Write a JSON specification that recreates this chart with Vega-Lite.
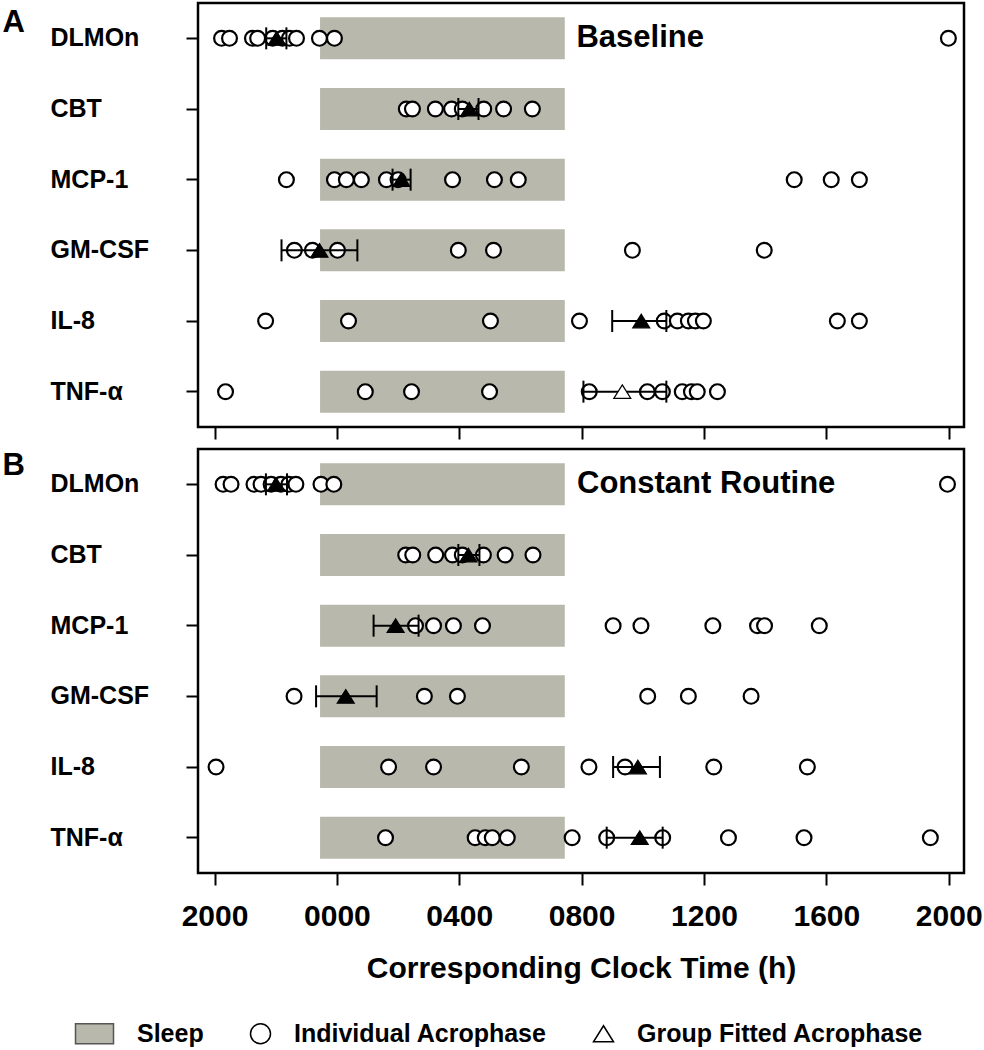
{
  "$schema": "https://vega.github.io/schema/vega-lite/v6.json",
  "padding": {"left": 0, "top": 1, "right": 0, "bottom": 0},
  "background": "white",
  "config": {
    "font": "Liberation Sans",
    "view": {"stroke": "black", "strokeWidth": 2.5},
    "axis": {"grid": false, "domain": false, "tickColor": "black", "tickWidth": 2, "tickSize": 12, "labelColor": "black", "titleColor": "black", "labelFont": "Liberation Sans", "titleFont": "Liberation Sans", "labelFontWeight": "bold", "titleFontWeight": "bold"},
    "legend": {"orient": "none", "legendX": -107, "legendY": 1018, "direction": "horizontal", "title": null,
               "labelFontSize": 25, "labelFontWeight": "bold", "labelColor": "black", "labelFont": "Liberation Sans", "labelLimit": 500,
               "symbolSize": 400, "symbolStrokeWidth": 1.5, "labelOffset": 21, "columnPadding": 43}
  },
  "datasets": {
    "sleep": [
      {"marker": "DLMOn", "start": 3.45, "end": 11.45},
      {"marker": "CBT", "start": 3.45, "end": 11.45},
      {"marker": "MCP-1", "start": 3.45, "end": 11.45},
      {"marker": "GM-CSF", "start": 3.45, "end": 11.45},
      {"marker": "IL-8", "start": 3.45, "end": 11.45},
      {"marker": "TNF-α", "start": 3.45, "end": 11.45}
    ],
    "ind": [
      {"panel": "A", "marker": "DLMOn", "hour": 0.23, "kind": "Individual Acrophase"},
      {"panel": "A", "marker": "DLMOn", "hour": 0.49, "kind": "Individual Acrophase"},
      {"panel": "A", "marker": "DLMOn", "hour": 1.24, "kind": "Individual Acrophase"},
      {"panel": "A", "marker": "DLMOn", "hour": 1.41, "kind": "Individual Acrophase"},
      {"panel": "A", "marker": "DLMOn", "hour": 1.9, "kind": "Individual Acrophase"},
      {"panel": "A", "marker": "DLMOn", "hour": 2.22, "kind": "Individual Acrophase"},
      {"panel": "A", "marker": "DLMOn", "hour": 2.45, "kind": "Individual Acrophase"},
      {"panel": "A", "marker": "DLMOn", "hour": 2.68, "kind": "Individual Acrophase"},
      {"panel": "A", "marker": "DLMOn", "hour": 3.43, "kind": "Individual Acrophase"},
      {"panel": "A", "marker": "DLMOn", "hour": 3.92, "kind": "Individual Acrophase"},
      {"panel": "A", "marker": "DLMOn", "hour": 23.99, "kind": "Individual Acrophase"},
      {"panel": "A", "marker": "CBT", "hour": 6.27, "kind": "Individual Acrophase"},
      {"panel": "A", "marker": "CBT", "hour": 6.47, "kind": "Individual Acrophase"},
      {"panel": "A", "marker": "CBT", "hour": 7.22, "kind": "Individual Acrophase"},
      {"panel": "A", "marker": "CBT", "hour": 7.75, "kind": "Individual Acrophase"},
      {"panel": "A", "marker": "CBT", "hour": 8.1, "kind": "Individual Acrophase"},
      {"panel": "A", "marker": "CBT", "hour": 8.8, "kind": "Individual Acrophase"},
      {"panel": "A", "marker": "CBT", "hour": 9.45, "kind": "Individual Acrophase"},
      {"panel": "A", "marker": "CBT", "hour": 10.39, "kind": "Individual Acrophase"},
      {"panel": "A", "marker": "MCP-1", "hour": 2.35, "kind": "Individual Acrophase"},
      {"panel": "A", "marker": "MCP-1", "hour": 3.92, "kind": "Individual Acrophase"},
      {"panel": "A", "marker": "MCP-1", "hour": 4.31, "kind": "Individual Acrophase"},
      {"panel": "A", "marker": "MCP-1", "hour": 4.8, "kind": "Individual Acrophase"},
      {"panel": "A", "marker": "MCP-1", "hour": 5.62, "kind": "Individual Acrophase"},
      {"panel": "A", "marker": "MCP-1", "hour": 6.0, "kind": "Individual Acrophase"},
      {"panel": "A", "marker": "MCP-1", "hour": 7.78, "kind": "Individual Acrophase"},
      {"panel": "A", "marker": "MCP-1", "hour": 9.15, "kind": "Individual Acrophase"},
      {"panel": "A", "marker": "MCP-1", "hour": 9.93, "kind": "Individual Acrophase"},
      {"panel": "A", "marker": "MCP-1", "hour": 18.95, "kind": "Individual Acrophase"},
      {"panel": "A", "marker": "MCP-1", "hour": 20.16, "kind": "Individual Acrophase"},
      {"panel": "A", "marker": "MCP-1", "hour": 21.08, "kind": "Individual Acrophase"},
      {"panel": "A", "marker": "GM-CSF", "hour": 2.61, "kind": "Individual Acrophase"},
      {"panel": "A", "marker": "GM-CSF", "hour": 3.2, "kind": "Individual Acrophase"},
      {"panel": "A", "marker": "GM-CSF", "hour": 4.02, "kind": "Individual Acrophase"},
      {"panel": "A", "marker": "GM-CSF", "hour": 7.97, "kind": "Individual Acrophase"},
      {"panel": "A", "marker": "GM-CSF", "hour": 9.12, "kind": "Individual Acrophase"},
      {"panel": "A", "marker": "GM-CSF", "hour": 13.66, "kind": "Individual Acrophase"},
      {"panel": "A", "marker": "GM-CSF", "hour": 17.97, "kind": "Individual Acrophase"},
      {"panel": "A", "marker": "IL-8", "hour": 1.67, "kind": "Individual Acrophase"},
      {"panel": "A", "marker": "IL-8", "hour": 4.38, "kind": "Individual Acrophase"},
      {"panel": "A", "marker": "IL-8", "hour": 9.02, "kind": "Individual Acrophase"},
      {"panel": "A", "marker": "IL-8", "hour": 11.93, "kind": "Individual Acrophase"},
      {"panel": "A", "marker": "IL-8", "hour": 14.7, "kind": "Individual Acrophase"},
      {"panel": "A", "marker": "IL-8", "hour": 15.13, "kind": "Individual Acrophase"},
      {"panel": "A", "marker": "IL-8", "hour": 15.49, "kind": "Individual Acrophase"},
      {"panel": "A", "marker": "IL-8", "hour": 15.72, "kind": "Individual Acrophase"},
      {"panel": "A", "marker": "IL-8", "hour": 15.98, "kind": "Individual Acrophase"},
      {"panel": "A", "marker": "IL-8", "hour": 20.36, "kind": "Individual Acrophase"},
      {"panel": "A", "marker": "IL-8", "hour": 21.08, "kind": "Individual Acrophase"},
      {"panel": "A", "marker": "TNF-α", "hour": 0.36, "kind": "Individual Acrophase"},
      {"panel": "A", "marker": "TNF-α", "hour": 4.93, "kind": "Individual Acrophase"},
      {"panel": "A", "marker": "TNF-α", "hour": 6.44, "kind": "Individual Acrophase"},
      {"panel": "A", "marker": "TNF-α", "hour": 8.99, "kind": "Individual Acrophase"},
      {"panel": "A", "marker": "TNF-α", "hour": 12.25, "kind": "Individual Acrophase"},
      {"panel": "A", "marker": "TNF-α", "hour": 14.15, "kind": "Individual Acrophase"},
      {"panel": "A", "marker": "TNF-α", "hour": 14.64, "kind": "Individual Acrophase"},
      {"panel": "A", "marker": "TNF-α", "hour": 15.29, "kind": "Individual Acrophase"},
      {"panel": "A", "marker": "TNF-α", "hour": 15.59, "kind": "Individual Acrophase"},
      {"panel": "A", "marker": "TNF-α", "hour": 15.78, "kind": "Individual Acrophase"},
      {"panel": "A", "marker": "TNF-α", "hour": 16.44, "kind": "Individual Acrophase"},
      {"panel": "B", "marker": "DLMOn", "hour": 0.28, "kind": "Individual Acrophase"},
      {"panel": "B", "marker": "DLMOn", "hour": 0.54, "kind": "Individual Acrophase"},
      {"panel": "B", "marker": "DLMOn", "hour": 1.29, "kind": "Individual Acrophase"},
      {"panel": "B", "marker": "DLMOn", "hour": 1.52, "kind": "Individual Acrophase"},
      {"panel": "B", "marker": "DLMOn", "hour": 1.85, "kind": "Individual Acrophase"},
      {"panel": "B", "marker": "DLMOn", "hour": 2.17, "kind": "Individual Acrophase"},
      {"panel": "B", "marker": "DLMOn", "hour": 2.43, "kind": "Individual Acrophase"},
      {"panel": "B", "marker": "DLMOn", "hour": 2.66, "kind": "Individual Acrophase"},
      {"panel": "B", "marker": "DLMOn", "hour": 3.48, "kind": "Individual Acrophase"},
      {"panel": "B", "marker": "DLMOn", "hour": 3.9, "kind": "Individual Acrophase"},
      {"panel": "B", "marker": "DLMOn", "hour": 23.96, "kind": "Individual Acrophase"},
      {"panel": "B", "marker": "CBT", "hour": 6.25, "kind": "Individual Acrophase"},
      {"panel": "B", "marker": "CBT", "hour": 6.48, "kind": "Individual Acrophase"},
      {"panel": "B", "marker": "CBT", "hour": 7.23, "kind": "Individual Acrophase"},
      {"panel": "B", "marker": "CBT", "hour": 7.78, "kind": "Individual Acrophase"},
      {"panel": "B", "marker": "CBT", "hour": 8.1, "kind": "Individual Acrophase"},
      {"panel": "B", "marker": "CBT", "hour": 8.79, "kind": "Individual Acrophase"},
      {"panel": "B", "marker": "CBT", "hour": 9.5, "kind": "Individual Acrophase"},
      {"panel": "B", "marker": "CBT", "hour": 10.41, "kind": "Individual Acrophase"},
      {"panel": "B", "marker": "MCP-1", "hour": 6.57, "kind": "Individual Acrophase"},
      {"panel": "B", "marker": "MCP-1", "hour": 7.16, "kind": "Individual Acrophase"},
      {"panel": "B", "marker": "MCP-1", "hour": 7.81, "kind": "Individual Acrophase"},
      {"panel": "B", "marker": "MCP-1", "hour": 8.76, "kind": "Individual Acrophase"},
      {"panel": "B", "marker": "MCP-1", "hour": 13.03, "kind": "Individual Acrophase"},
      {"panel": "B", "marker": "MCP-1", "hour": 13.94, "kind": "Individual Acrophase"},
      {"panel": "B", "marker": "MCP-1", "hour": 16.29, "kind": "Individual Acrophase"},
      {"panel": "B", "marker": "MCP-1", "hour": 17.75, "kind": "Individual Acrophase"},
      {"panel": "B", "marker": "MCP-1", "hour": 17.98, "kind": "Individual Acrophase"},
      {"panel": "B", "marker": "MCP-1", "hour": 19.77, "kind": "Individual Acrophase"},
      {"panel": "B", "marker": "GM-CSF", "hour": 2.6, "kind": "Individual Acrophase"},
      {"panel": "B", "marker": "GM-CSF", "hour": 6.86, "kind": "Individual Acrophase"},
      {"panel": "B", "marker": "GM-CSF", "hour": 7.94, "kind": "Individual Acrophase"},
      {"panel": "B", "marker": "GM-CSF", "hour": 14.16, "kind": "Individual Acrophase"},
      {"panel": "B", "marker": "GM-CSF", "hour": 15.49, "kind": "Individual Acrophase"},
      {"panel": "B", "marker": "GM-CSF", "hour": 17.54, "kind": "Individual Acrophase"},
      {"panel": "B", "marker": "IL-8", "hour": 0.05, "kind": "Individual Acrophase"},
      {"panel": "B", "marker": "IL-8", "hour": 5.69, "kind": "Individual Acrophase"},
      {"panel": "B", "marker": "IL-8", "hour": 7.16, "kind": "Individual Acrophase"},
      {"panel": "B", "marker": "IL-8", "hour": 10.03, "kind": "Individual Acrophase"},
      {"panel": "B", "marker": "IL-8", "hour": 12.24, "kind": "Individual Acrophase"},
      {"panel": "B", "marker": "IL-8", "hour": 13.42, "kind": "Individual Acrophase"},
      {"panel": "B", "marker": "IL-8", "hour": 16.32, "kind": "Individual Acrophase"},
      {"panel": "B", "marker": "IL-8", "hour": 19.38, "kind": "Individual Acrophase"},
      {"panel": "B", "marker": "TNF-α", "hour": 5.59, "kind": "Individual Acrophase"},
      {"panel": "B", "marker": "TNF-α", "hour": 8.52, "kind": "Individual Acrophase"},
      {"panel": "B", "marker": "TNF-α", "hour": 8.85, "kind": "Individual Acrophase"},
      {"panel": "B", "marker": "TNF-α", "hour": 9.08, "kind": "Individual Acrophase"},
      {"panel": "B", "marker": "TNF-α", "hour": 9.57, "kind": "Individual Acrophase"},
      {"panel": "B", "marker": "TNF-α", "hour": 11.69, "kind": "Individual Acrophase"},
      {"panel": "B", "marker": "TNF-α", "hour": 12.82, "kind": "Individual Acrophase"},
      {"panel": "B", "marker": "TNF-α", "hour": 14.65, "kind": "Individual Acrophase"},
      {"panel": "B", "marker": "TNF-α", "hour": 16.8, "kind": "Individual Acrophase"},
      {"panel": "B", "marker": "TNF-α", "hour": 19.27, "kind": "Individual Acrophase"},
      {"panel": "B", "marker": "TNF-α", "hour": 23.4, "kind": "Individual Acrophase"}
    ],
    "grp": [
      {"panel": "A", "marker": "DLMOn", "hour": 2.03, "lo": 1.69, "hi": 2.35, "significant": true},
      {"panel": "A", "marker": "CBT", "hour": 8.33, "lo": 7.97, "hi": 8.63, "significant": true},
      {"panel": "A", "marker": "MCP-1", "hour": 6.11, "lo": 5.82, "hi": 6.41, "significant": true},
      {"panel": "A", "marker": "GM-CSF", "hour": 3.43, "lo": 2.19, "hi": 4.67, "significant": true},
      {"panel": "A", "marker": "IL-8", "hour": 13.95, "lo": 13.0, "hi": 14.77, "significant": true},
      {"panel": "A", "marker": "TNF-α", "hour": 13.33, "lo": 12.06, "hi": 14.77, "significant": false},
      {"panel": "B", "marker": "DLMOn", "hour": 2.01, "lo": 1.68, "hi": 2.37, "significant": true},
      {"panel": "B", "marker": "CBT", "hour": 8.3, "lo": 7.97, "hi": 8.66, "significant": true},
      {"panel": "B", "marker": "MCP-1", "hour": 5.92, "lo": 5.2, "hi": 6.67, "significant": true},
      {"panel": "B", "marker": "GM-CSF", "hour": 4.29, "lo": 3.32, "hi": 5.3, "significant": true},
      {"panel": "B", "marker": "IL-8", "hour": 13.84, "lo": 13.03, "hi": 14.56, "significant": true},
      {"panel": "B", "marker": "TNF-α", "hour": 13.9, "lo": 12.82, "hi": 14.65, "significant": true}
    ]
  },
  "spacing": 5,
  "vconcat": [
    {
      "width": 766,
      "height": 424,
      "layer": [
        {
          "data": {"name": "sleep"},
          "mark": {"type": "bar", "color": "#b8b8ac", "size": 42},
          "encoding": {
            "x": {"field": "start", "type": "quantitative", "scale": {"domain": [-0.54, 24.5], "nice": false, "zero": false},
                  "axis": {"values": [0, 4, 8, 12, 16, 20, 24], "labels": false, "title": null, "tickSize": 12}},
            "x2": {"field": "end"},
            "y": {"field": "marker", "type": "nominal",
                  "scale": {"type": "band", "domain": ["DLMOn", "CBT", "MCP-1", "GM-CSF", "IL-8", "TNF-α"], "paddingInner": 0, "paddingOuter": 0},
                  "axis": {"title": "A", "titleAngle": 0, "titleX": -196, "titleY": 28, "titleAlign": "left", "titleBaseline": "alphabetic", "titleFontSize": 31,
                           "labelAlign": "left", "labelPadding": 136, "labelFontSize": 25, "labelBaseline": "middle", "tickSize": 12}}
          }
        },
        {
          "data": {"name": "ind"},
          "transform": [{"filter": "datum.panel === 'A'"}],
          "mark": {"type": "point", "shape": "circle", "filled": true, "fill": "white", "stroke": "black", "strokeWidth": 2.2, "size": 220, "opacity": 1},
          "encoding": {
            "x": {"field": "hour", "type": "quantitative"},
            "y": {"field": "marker", "type": "nominal"}
          }
        },
        {
          "data": {"name": "grp"},
          "transform": [{"filter": "datum.panel === 'A'"}],
          "mark": {"type": "rule", "strokeWidth": 2, "color": "black"},
          "encoding": {
            "x": {"field": "lo", "type": "quantitative"},
            "x2": {"field": "hi"},
            "y": {"field": "marker", "type": "nominal"}
          }
        },
        {
          "data": {"name": "grp"},
          "transform": [{"filter": "datum.panel === 'A'"}],
          "mark": {"type": "tick", "orient": "vertical", "size": 22, "thickness": 2, "color": "black", "opacity": 1},
          "encoding": {
            "x": {"field": "lo", "type": "quantitative"},
            "y": {"field": "marker", "type": "nominal"}
          }
        },
        {
          "data": {"name": "grp"},
          "transform": [{"filter": "datum.panel === 'A'"}],
          "mark": {"type": "tick", "orient": "vertical", "size": 22, "thickness": 2, "color": "black", "opacity": 1},
          "encoding": {
            "x": {"field": "hi", "type": "quantitative"},
            "y": {"field": "marker", "type": "nominal"}
          }
        },
        {
          "data": {"name": "grp"},
          "transform": [{"filter": "datum.panel === 'A'"}],
          "mark": {"type": "point", "shape": "M0,-0.8L1,0.8L-1,0.8Z", "filled": true, "stroke": "black", "strokeWidth": 1.2, "size": 289, "opacity": 1},
          "encoding": {
            "x": {"field": "hour", "type": "quantitative"},
            "y": {"field": "marker", "type": "nominal"},
            "fill": {"condition": {"test": "datum.significant", "value": "black"}, "value": "white"}
          }
        },
        {
          "data": {"values": [{}]},
          "mark": {"type": "text", "align": "left", "baseline": "middle", "fontSize": 31, "fontWeight": "bold", "color": "black"},
          "encoding": {
            "x": {"datum": 11.83, "type": "quantitative"},
            "y": {"datum": "DLMOn", "type": "nominal"},
            "text": {"value": "Baseline"}
          }
        }
      ]
    },
    {
      "width": 766,
      "height": 424,
      "layer": [
        {
          "data": {"name": "sleep"},
          "mark": {"type": "bar", "color": "#b8b8ac", "size": 42},
          "encoding": {
            "x": {"field": "start", "type": "quantitative", "scale": {"domain": [-0.54, 24.5], "nice": false, "zero": false},
                  "axis": {"values": [0, 4, 8, 12, 16, 20, 24], "labelExpr": "['2000','0000','0400','0800','1200','1600','2000'][round(datum.value/4)]",
                           "labelFontSize": 30, "labelPadding": 16, "tickSize": 12,
                           "title": "Corresponding Clock Time (h)", "titleFontSize": 30, "titlePadding": 22}},
            "x2": {"field": "end"},
            "y": {"field": "marker", "type": "nominal",
                  "scale": {"type": "band", "domain": ["DLMOn", "CBT", "MCP-1", "GM-CSF", "IL-8", "TNF-α"], "paddingInner": 0, "paddingOuter": 0},
                  "axis": {"title": "B", "titleAngle": 0, "titleX": -196, "titleY": 25, "titleAlign": "left", "titleBaseline": "alphabetic", "titleFontSize": 31,
                           "labelAlign": "left", "labelPadding": 136, "labelFontSize": 25, "labelBaseline": "middle", "tickSize": 12}}
          }
        },
        {
          "data": {"name": "ind"},
          "transform": [{"filter": "datum.panel === 'B'"}],
          "mark": {"type": "point", "filled": true, "strokeWidth": 2.2, "size": 220, "opacity": 1},
          "encoding": {
            "x": {"field": "hour", "type": "quantitative"},
            "y": {"field": "marker", "type": "nominal"},
            "shape": {"field": "kind", "type": "nominal",
                      "scale": {"domain": ["Sleep", "Individual Acrophase", "Group Fitted Acrophase"], "range": ["M-2.8,-1H1V1H-2.8Z", "circle", "M0,-0.8L1,0.8L-1,0.8Z"]}},
            "fill": {"field": "kind", "type": "nominal",
                     "scale": {"domain": ["Sleep", "Individual Acrophase", "Group Fitted Acrophase"], "range": ["#b8b8ac", "white", "white"]}},
            "stroke": {"field": "kind", "type": "nominal",
                       "scale": {"domain": ["Sleep", "Individual Acrophase", "Group Fitted Acrophase"], "range": ["#555555", "black", "black"]}}
          }
        },
        {
          "data": {"name": "grp"},
          "transform": [{"filter": "datum.panel === 'B'"}],
          "mark": {"type": "rule", "strokeWidth": 2, "color": "black"},
          "encoding": {
            "x": {"field": "lo", "type": "quantitative"},
            "x2": {"field": "hi"},
            "y": {"field": "marker", "type": "nominal"}
          }
        },
        {
          "data": {"name": "grp"},
          "transform": [{"filter": "datum.panel === 'B'"}],
          "mark": {"type": "tick", "orient": "vertical", "size": 22, "thickness": 2, "color": "black", "opacity": 1},
          "encoding": {
            "x": {"field": "lo", "type": "quantitative"},
            "y": {"field": "marker", "type": "nominal"}
          }
        },
        {
          "data": {"name": "grp"},
          "transform": [{"filter": "datum.panel === 'B'"}],
          "mark": {"type": "tick", "orient": "vertical", "size": 22, "thickness": 2, "color": "black", "opacity": 1},
          "encoding": {
            "x": {"field": "hi", "type": "quantitative"},
            "y": {"field": "marker", "type": "nominal"}
          }
        },
        {
          "data": {"name": "grp"},
          "transform": [{"filter": "datum.panel === 'B'"}],
          "mark": {"type": "point", "shape": "M0,-0.8L1,0.8L-1,0.8Z", "filled": true, "stroke": "black", "strokeWidth": 1.2, "size": 289, "opacity": 1},
          "encoding": {
            "x": {"field": "hour", "type": "quantitative"},
            "y": {"field": "marker", "type": "nominal"},
            "fill": {"condition": {"test": "datum.significant", "value": "black"}, "value": "white"}
          }
        },
        {
          "data": {"values": [{}]},
          "mark": {"type": "text", "align": "left", "baseline": "middle", "fontSize": 31, "fontWeight": "bold", "color": "black"},
          "encoding": {
            "x": {"datum": 11.85, "type": "quantitative"},
            "y": {"datum": "DLMOn", "type": "nominal"},
            "text": {"value": "Constant Routine"}
          }
        }
      ]
    }
  ]
}
